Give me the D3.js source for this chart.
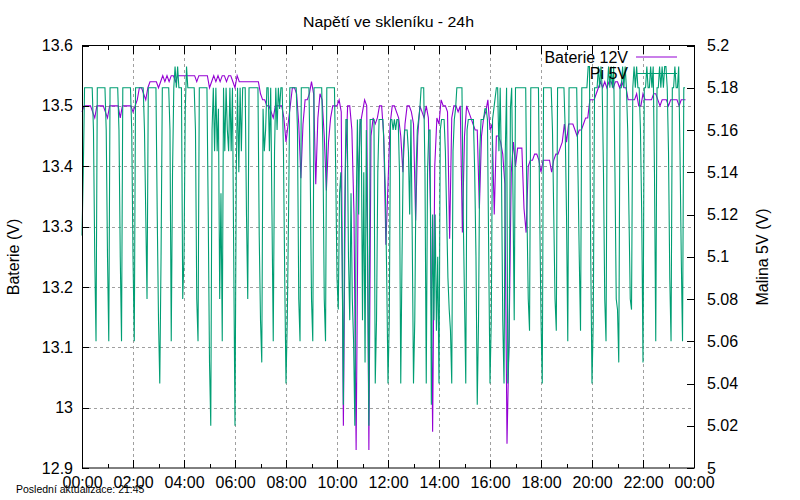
<!DOCTYPE html>
<html><head><meta charset="utf-8">
<script src="https://cdn.jsdelivr.net/npm/d3@7"></script>
<style>
body{margin:0;background:#fff}
text{font-family:"Liberation Sans",Arial,sans-serif;fill:#000}
</style>
</head><body><svg id="c" width="800" height="500"></svg>
<script>
// ---- data ----
const title = "Napětí ve skleníku - 24h";
const footer = "Poslední aktualizace: 21:45";
const xTickMinutes = [0,120,240,360,480,600,720,840,960,1080,1200,1320,1440];
const xTickLabels = ["00:00","02:00","04:00","06:00","08:00","10:00","12:00","14:00","16:00","18:00","20:00","22:00","00:00"];
const xMinorMinutes = [60,180,300,420,540,660,780,900,1020,1140,1260,1380];
const yLeftTicks = [12.9,13.0,13.1,13.2,13.3,13.4,13.5,13.6];
const yLeftLabels = ["12.9","13","13.1","13.2","13.3","13.4","13.5","13.6"];
const yRightTicks = [5.00,5.02,5.04,5.06,5.08,5.10,5.12,5.14,5.16,5.18,5.20];
const yRightLabels = ["5","5.02","5.04","5.06","5.08","5.1","5.12","5.14","5.16","5.18","5.2"];

// Baterie 12V, one sample every 5 minutes from 00:00
const batteryStepMin = 5;
const battery = [
13.49,13.50,13.50,13.50,13.50,13.49,13.48,13.50,13.50,13.50,
13.50,13.49,13.48,13.50,13.50,13.50,13.50,13.50,13.48,13.50,
13.50,13.50,13.50,13.50,13.49,13.50,13.51,13.53,13.53,13.52,
13.51,13.53,13.54,13.54,13.54,13.54,13.53,13.54,13.55,13.54,
13.55,13.54,13.55,13.55,13.54,13.55,13.55,13.55,13.55,13.55,
13.55,13.55,13.55,13.55,13.54,13.55,13.55,13.55,13.55,13.55,
13.53,13.54,13.55,13.54,13.55,13.54,13.55,13.55,13.54,13.55,
13.55,13.54,13.53,13.55,13.54,13.54,13.54,13.54,13.54,13.54,
13.54,13.54,13.54,13.54,13.52,13.51,13.51,13.50,13.50,13.49,
13.48,13.50,13.50,13.50,13.50,13.48,13.44,13.47,13.50,13.53,
13.53,13.52,13.47,13.38,13.47,13.51,13.51,13.52,13.54,13.52,
13.37,13.48,13.52,13.51,13.45,13.36,13.44,13.48,13.50,13.50,
13.50,13.51,13.49,12.97,13.40,13.50,13.50,13.46,13.32,12.93,
13.38,13.47,13.49,13.51,13.50,12.93,13.45,13.48,13.47,13.48,
13.50,13.50,13.45,13.27,13.37,13.47,13.50,13.50,13.49,13.48,
13.45,13.39,13.47,13.50,13.50,13.49,13.47,13.31,13.45,13.50,
13.49,13.48,13.50,13.48,13.33,12.96,13.40,13.48,13.47,13.51,
13.50,13.50,13.49,13.28,13.48,13.50,13.50,13.49,13.50,13.29,
13.45,13.50,13.49,13.48,13.47,13.46,13.46,13.33,13.45,13.48,
13.49,13.51,13.46,13.47,13.32,13.45,13.45,13.44,13.42,13.37,
12.94,13.12,13.39,13.44,13.40,13.43,13.43,13.43,13.33,13.29,
13.40,13.41,13.41,13.42,13.42,13.41,13.39,13.41,13.41,13.41,
13.41,13.39,13.41,13.42,13.42,13.43,13.44,13.47,13.44,13.47,
13.47,13.47,13.46,13.45,13.46,13.46,13.47,13.48,13.48,13.51,
13.51,13.51,13.52,13.53,13.54,13.53,13.54,13.53,13.54,13.54,
13.53,13.54,13.54,13.53,13.54,13.53,13.53,13.51,13.51,13.51,
13.51,13.52,13.50,13.50,13.52,13.51,13.51,13.51,13.51,13.52,
13.52,13.51,13.50,13.51,13.51,13.51,13.50,13.51,13.51,13.51,
13.51,13.50,13.51,13.51,13.51
];

// Pi 5V, one sample every 3 minutes from 00:00
const piStepMin = 3;
const pi = [
5.11,5.14,5.18,5.18,5.18,5.18,5.18,5.18,5.18,5.16,
5.10,5.06,5.18,5.18,5.18,5.18,5.18,5.18,5.18,5.16,
5.10,5.06,5.18,5.18,5.18,5.18,5.18,5.18,5.18,5.16,
5.10,5.06,5.18,5.18,5.18,5.18,5.18,5.18,5.18,5.16,
5.10,5.06,5.18,5.18,5.18,5.18,5.18,5.18,5.18,5.16,
5.12,5.08,5.18,5.18,5.18,5.18,5.18,5.18,5.18,5.12,
5.07,5.04,5.10,5.18,5.18,5.18,5.18,5.18,5.18,5.16,
5.06,5.14,5.18,5.19,5.18,5.19,5.18,5.18,5.18,5.08,
5.10,5.17,5.19,5.18,5.18,5.18,5.18,5.18,5.18,5.16,
5.08,5.06,5.18,5.18,5.18,5.18,5.18,5.18,5.18,5.12,
5.05,5.02,5.16,5.18,5.15,5.18,5.15,5.17,5.08,5.13,
5.06,5.18,5.15,5.18,5.16,5.15,5.18,5.15,5.18,5.10,
5.02,5.14,5.18,5.14,5.18,5.15,5.18,5.18,5.18,5.12,
5.08,5.18,5.18,5.18,5.18,5.18,5.18,5.18,5.18,5.11,
5.07,5.05,5.17,5.15,5.16,5.18,5.18,5.15,5.18,5.12,
5.06,5.15,5.18,5.16,5.18,5.17,5.18,5.18,5.15,5.09,
5.04,5.07,5.12,5.18,5.18,5.18,5.18,5.18,5.18,5.16,
5.08,5.06,5.18,5.18,5.18,5.18,5.18,5.18,5.18,5.14,
5.08,5.06,5.18,5.18,5.18,5.18,5.18,5.18,5.18,5.15,
5.08,5.06,5.18,5.18,5.18,5.18,5.18,5.18,5.18,5.14,
5.09,5.075,5.13,5.14,5.10,5.03,5.12,5.165,5.165,5.10,
5.07,5.13,5.08,5.06,5.02,5.12,5.165,5.12,5.165,5.165,
5.07,5.14,5.05,5.16,5.10,5.02,5.165,5.165,5.165,5.165,
5.04,5.07,5.14,5.165,5.165,5.165,5.165,5.15,5.13,5.09,
5.04,5.07,5.165,5.165,5.16,5.165,5.16,5.165,5.165,5.14,
5.04,5.10,5.15,5.16,5.16,5.16,5.15,5.12,5.165,5.11,
5.04,5.07,5.14,5.16,5.165,5.17,5.18,5.18,5.18,5.14,
5.04,5.14,5.16,5.16,5.03,5.12,5.07,5.12,5.065,5.10,
5.04,5.16,5.165,5.165,5.165,5.15,5.12,5.09,5.075,5.065,
5.04,5.15,5.165,5.17,5.18,5.18,5.18,5.18,5.18,5.12,
5.08,5.04,5.16,5.165,5.165,5.165,5.165,5.165,5.14,5.10,
5.03,5.07,5.15,5.165,5.165,5.165,5.17,5.17,5.165,5.10,
5.04,5.07,5.165,5.17,5.175,5.18,5.18,5.15,5.18,5.14,
5.07,5.04,5.15,5.18,5.04,5.06,5.17,5.18,5.13,5.07,
5.18,5.18,5.18,5.18,5.18,5.18,5.18,5.18,5.18,5.12,
5.08,5.065,5.18,5.18,5.18,5.18,5.18,5.18,5.18,5.12,
5.07,5.04,5.18,5.18,5.18,5.18,5.18,5.18,5.18,5.16,
5.12,5.08,5.065,5.18,5.18,5.18,5.18,5.18,5.18,5.16,
5.12,5.06,5.18,5.18,5.18,5.18,5.18,5.18,5.18,5.14,
5.10,5.065,5.18,5.18,5.18,5.18,5.18,5.19,5.19,5.10,
5.04,5.07,5.18,5.18,5.18,5.19,5.18,5.19,5.18,5.14,
5.08,5.06,5.18,5.19,5.18,5.19,5.18,5.19,5.14,5.08,
5.075,5.05,5.18,5.18,5.19,5.18,5.19,5.18,5.16,5.12,
5.08,5.075,5.18,5.19,5.18,5.19,5.18,5.18,5.16,5.12,
5.05,5.18,5.18,5.19,5.18,5.18,5.19,5.18,5.19,5.14,
5.06,5.18,5.18,5.19,5.18,5.19,5.18,5.19,5.19,5.18,
5.15,5.09,5.06,5.18,5.18,5.19,5.18,5.18,5.19,5.15,
5.10,5.06,5.18,5.18
];

const seriesNames = ["Baterie 12V","Pi 5V"];
const seriesColors = ["#9400d3","#009e73"];

// ---- drawing ----
const L = 82, R = 694, T = 45.5, B = 468;
const svg = d3.select("#c");
const x = d3.scaleLinear().domain([0,1440]).range([L,R]);
const yL = d3.scaleLinear().domain([12.9,13.6]).range([B,T]);
const yR = d3.scaleLinear().domain([5.0,5.2]).range([B,T]);
const FS = "16px";

// grid
const grid = svg.append("g").attr("stroke","#a0a0a0").attr("stroke-width",1)
  .attr("stroke-dasharray","3,3").attr("shape-rendering","crispEdges");
yLeftTicks.slice(1,-1).forEach(v=>{
  grid.append("line").attr("x1",L).attr("x2",R).attr("y1",Math.round(yL(v))+0.5).attr("y2",Math.round(yL(v))+0.5);
});
xTickMinutes.slice(1,-1).forEach(m=>{
  grid.append("line").attr("y1",T).attr("y2",B).attr("x1",Math.round(x(m))+0.5).attr("x2",Math.round(x(m))+0.5);
});

// data lines
const lineB = d3.line().x((d,i)=>x(i*batteryStepMin)).y(d=>yL(d));
const lineP = d3.line().x((d,i)=>x(i*piStepMin)).y(d=>yR(d));
svg.append("path").datum(battery).attr("d",lineB).attr("fill","none")
  .attr("stroke",seriesColors[0]).attr("stroke-width",1.1);
svg.append("path").datum(pi).attr("d",lineP).attr("fill","none")
  .attr("stroke",seriesColors[1]).attr("stroke-width",1.1);

// axes
function styleAxis(g){
  g.select(".domain").remove();
  g.selectAll("line").attr("stroke","#000").attr("shape-rendering","crispEdges");
  g.selectAll("text").style("font-size",FS).attr("fill","#000");
}
svg.append("g").attr("transform",`translate(0,${B})`)
  .call(d3.axisBottom(x).tickValues(xTickMinutes).tickSize(-8).tickPadding(9)
    .tickFormat((d,i)=>xTickLabels[i]))
  .call(styleAxis);
svg.append("g").attr("transform",`translate(0,${B})`)
  .call(d3.axisBottom(x).tickValues(xMinorMinutes).tickSize(-4).tickFormat(""))
  .call(styleAxis);
svg.append("g").attr("transform",`translate(0,${T})`)
  .call(d3.axisTop(x).tickValues(xTickMinutes).tickSize(-8).tickFormat(""))
  .call(styleAxis);
svg.append("g").attr("transform",`translate(0,${T})`)
  .call(d3.axisTop(x).tickValues(xMinorMinutes).tickSize(-4).tickFormat(""))
  .call(styleAxis);
svg.append("g").attr("transform",`translate(${L},0)`)
  .call(d3.axisLeft(yL).tickValues(yLeftTicks).tickSize(-7).tickPadding(9)
    .tickFormat((d,i)=>yLeftLabels[i]))
  .call(styleAxis);
svg.append("g").attr("transform",`translate(${R},0)`)
  .call(d3.axisRight(yR).tickValues(yRightTicks).tickSize(-7).tickPadding(13)
    .tickFormat((d,i)=>yRightLabels[i]))
  .call(styleAxis);
svg.selectAll("g.tick text").attr("font-family",'"Liberation Sans",Arial,sans-serif');

// border
svg.append("rect").attr("x",L+0.5).attr("y",T).attr("width",R-L).attr("height",B-T)
  .attr("fill","none").attr("stroke","#000").attr("stroke-width",1);

// legend
seriesNames.forEach((n,i)=>{
  const ly = 57 + i*16.5;
  svg.append("text").attr("x",628).attr("y",ly).attr("dy","0.35em")
    .attr("text-anchor","end").style("font-size",FS).text(n);
  svg.append("line").attr("x1",636).attr("x2",677).attr("y1",ly).attr("y2",ly)
    .attr("stroke",seriesColors[i]).attr("stroke-width",1.1);
});

// titles
svg.append("text").attr("x",303).attr("y",27)
  .attr("textLength",171).attr("lengthAdjust","spacingAndGlyphs")
  .style("font-size","15.5px").text(title);
svg.append("text").attr("transform","translate(13,257) rotate(-90)")
  .attr("text-anchor","middle").attr("dy","0.35em").style("font-size",FS).text("Baterie (V)");
svg.append("text").attr("transform","translate(762,257) rotate(-90)")
  .attr("text-anchor","middle").attr("dy","0.35em").style("font-size",FS).text("Malina 5V (V)");
svg.append("text").attr("x",16).attr("y",493).style("font-size","10.5px")
  .attr("fill","#222").text(footer);
</script>
</body></html>
